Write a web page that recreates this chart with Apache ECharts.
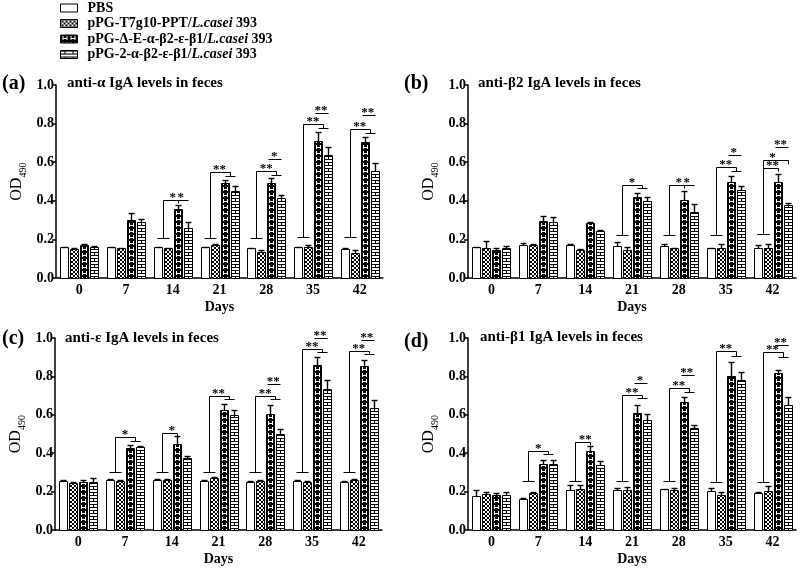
<!DOCTYPE html>
<html>
<head>
<meta charset="utf-8">
<script src="https://cdn.jsdelivr.net/npm/echarts@6/dist/echarts.min.js"></script>
<style>
html, body { margin: 0; padding: 0; background: #fff; }
#chart { width: 800px; height: 570px; }
</style>
</head>
<body>
<div id="chart"></div>
<script>
var days = ['0', '7', '14', '21', '28', '35', '42'];
var groups = ['PBS', 'pPG-T7g10-PPT/L.casei 393', 'pPG-Δ-E-α-β2-ε-β1/L.casei 393', 'pPG-2-α-β2-ε-β1/L.casei 393'];
var panelTags = ['(a)', '(b)', '(c)', '(d)'];
var panelTitles = ['anti-α IgA levels in feces', 'anti-β2 IgA levels in feces', 'anti-ε IgA levels in feces', 'anti-β1 IgA levels in feces'];

// means, one row per group (PBS, T7g10, Δ-E, 2-α)
var meanA = [
  [0.159, 0.160, 0.160, 0.159, 0.153, 0.159, 0.152],
  [0.152, 0.155, 0.155, 0.169, 0.133, 0.160, 0.129],
  [0.169, 0.300, 0.357, 0.490, 0.490, 0.710, 0.707],
  [0.160, 0.288, 0.260, 0.450, 0.414, 0.638, 0.555]
];
var sdA = [
  [0.003, 0.003, 0.003, 0.003, 0.003, 0.003, 0.003],
  [0.003, 0.003, 0.003, 0.005, 0.014, 0.012, 0.014],
  [0.006, 0.035, 0.023, 0.020, 0.027, 0.049, 0.026],
  [0.004, 0.017, 0.030, 0.025, 0.016, 0.040, 0.040]
];
var meanB = [
  [0.159, 0.172, 0.172, 0.167, 0.167, 0.155, 0.155],
  [0.155, 0.172, 0.147, 0.147, 0.155, 0.155, 0.155],
  [0.143, 0.297, 0.284, 0.419, 0.402, 0.497, 0.495],
  [0.155, 0.290, 0.245, 0.397, 0.341, 0.457, 0.379]
];
var sdB = [
  [0.003, 0.008, 0.003, 0.017, 0.009, 0.003, 0.014],
  [0.035, 0.003, 0.003, 0.012, 0.003, 0.021, 0.021],
  [0.012, 0.022, 0.005, 0.021, 0.050, 0.033, 0.045],
  [0.009, 0.024, 0.005, 0.025, 0.042, 0.021, 0.012]
];
var meanC = [
  [0.257, 0.261, 0.261, 0.257, 0.252, 0.257, 0.252],
  [0.247, 0.257, 0.261, 0.270, 0.256, 0.252, 0.261],
  [0.252, 0.426, 0.447, 0.623, 0.605, 0.861, 0.856],
  [0.249, 0.431, 0.374, 0.600, 0.501, 0.734, 0.635]
];
var sdC = [
  [0.004, 0.003, 0.003, 0.003, 0.003, 0.003, 0.003],
  [0.003, 0.003, 0.004, 0.008, 0.003, 0.003, 0.003],
  [0.006, 0.017, 0.040, 0.034, 0.047, 0.040, 0.031],
  [0.021, 0.004, 0.014, 0.023, 0.026, 0.045, 0.043]
];
var meanD = [
  [0.175, 0.162, 0.209, 0.206, 0.213, 0.201, 0.194],
  [0.185, 0.192, 0.215, 0.209, 0.206, 0.180, 0.201],
  [0.183, 0.346, 0.410, 0.607, 0.668, 0.800, 0.817],
  [0.180, 0.342, 0.337, 0.572, 0.532, 0.782, 0.651]
];
var sdD = [
  [0.031, 0.006, 0.023, 0.014, 0.003, 0.019, 0.003],
  [0.012, 0.007, 0.017, 0.014, 0.012, 0.017, 0.026],
  [0.009, 0.020, 0.026, 0.044, 0.027, 0.073, 0.017],
  [0.017, 0.021, 0.023, 0.032, 0.014, 0.043, 0.044]
];

// group brackets: [day index, foot OD, top OD, drop OD, target (23 = both, 2 = Δ-E, 3 = 2-α), label]
var bracketA = [[2, 0.205, 0.405, 0.39, 2, '*'], [3, 0.205, 0.547, 0.53, 23, '**'], [4, 0.205, 0.552, 0.533, 23, '**'], [5, 0.21, 0.798, 0.776, 23, '**'], [6, 0.21, 0.770, 0.750, 23, '**']];
var bracketB = [[3, 0.224, 0.483, 0.465, 23, '*'], [4, 0.224, 0.483, 0.465, 2, '*'], [5, 0.224, 0.574, 0.555, 23, '**'], [6, 0.228, 0.570, 0.555, 2, '**'], [6, 0.228, 0.612, 0.592, 3, '*']];
var bracketC = [[1, 0.30, 0.484, 0.465, 23, '*'], [2, 0.30, 0.507, 0.49, 2, '*'], [3, 0.30, 0.70, 0.68, 23, '**'], [4, 0.30, 0.696, 0.68, 23, '**'], [5, 0.30, 0.943, 0.925, 23, '**'], [6, 0.30, 0.93, 0.915, 23, '**']];
var bracketD = [[1, 0.255, 0.41, 0.395, 23, '*'], [2, 0.255, 0.46, 0.445, 2, '**'], [3, 0.255, 0.703, 0.685, 23, '**'], [4, 0.255, 0.74, 0.72, 23, '**'], [5, 0.25, 0.93, 0.905, 23, '**'], [6, 0.25, 0.925, 0.90, 23, '**']];
// Δ-E vs 2-α: [day index, OD, label]
var pairA = [[2, 0.405, '*'], [4, 0.615, '*'], [5, 0.853, '**'], [6, 0.845, '**']];
var pairB = [[4, 0.483, '*'], [5, 0.638, '*'], [6, 0.678, '**']];
var pairC = [[4, 0.76, '**'], [5, 1.0, '**'], [6, 0.99, '**']];
var pairD = [[3, 0.768, '*'], [4, 0.808, '**'], [6, 0.965, '**']];

var panels = [
  { mean: meanA, sd: sdA, brackets: bracketA, pairs: pairA },
  { mean: meanB, sd: sdB, brackets: bracketB, pairs: pairB },
  { mean: meanC, sd: sdC, brackets: bracketC, pairs: pairC },
  { mean: meanD, sd: sdD, brackets: bracketD, pairs: pairD }
];

var serif = '"Liberation Serif", "Times New Roman", serif';
var gridPos = [
  { left: 56, top: 85, width: 327, height: 193 },
  { left: 468, top: 85, width: 328, height: 193 },
  { left: 55, top: 338, width: 327, height: 192 },
  { left: 468, top: 338, width: 328, height: 192 }
];

function tile(w, h, draw) {
  var c = document.createElement('canvas');
  c.width = w;
  c.height = h;
  draw(c.getContext('2d'));
  return c;
}
var tiles = [
  null,
  tile(4, 4, function (g) {
    g.fillStyle = '#fff';
    g.fillRect(0, 0, 4, 4);
    g.fillStyle = '#000';
    [[0, 0], [1, 1], [2, 2], [3, 3], [3, 0], [2, 1], [1, 2], [0, 3]].forEach(function (p) { g.fillRect(p[0], p[1], 1, 1); });
  }),
  tile(8, 6, function (g) {
    g.fillStyle = '#000';
    g.fillRect(0, 0, 8, 6);
    g.fillStyle = '#fff';
    g.fillRect(2, 1, 1, 4);
    g.fillRect(6, 1, 1, 4);
    g.fillRect(3, 3, 3, 1);
  }),
  tile(8, 6, function (g) {
    g.fillStyle = '#fff';
    g.fillRect(0, 0, 8, 6);
    g.fillStyle = '#000';
    g.fillRect(0, 0, 8, 1);
    g.fillRect(4, 1, 1, 2);
    g.fillRect(0, 3, 8, 1);
  })
];
function fillFor(k, x) {
  if (k === 0) return '#fff';
  return { image: tiles[k], repeat: 'repeat', x: x || 0, y: 0 };
}

function barRender(k) {
  return function (params, api) {
    var cat = api.value(0), v = api.value(1), sd = api.value(2);
    var base = api.coord([cat, 0]);
    var top = api.coord([cat, v]);
    var hi = api.coord([cat, v + sd]);
    var xl = Math.round(base[0] - 19 + 10 * k);
    var yb = Math.round(base[1]) + 0.5;
    var yt = Math.round(top[1]) + 0.5;
    var xm = xl + 4.5;
    var ch = [{
      type: 'rect',
      shape: { x: xl + 0.5, y: yt, width: 8, height: yb - yt },
      style: { fill: fillFor(k, xl), stroke: '#000', lineWidth: 1 }
    }];
    if (sd > 0) {
      var yh = Math.round(hi[1]) + 0.5;
      ch.push({ type: 'line', shape: { x1: xm, y1: yt, x2: xm, y2: yh }, style: { stroke: '#000', lineWidth: 1.4 } });
      ch.push({ type: 'line', shape: { x1: xm - 3, y1: yh, x2: xm + 3, y2: yh }, style: { stroke: '#000', lineWidth: 1.4 } });
    }
    return { type: 'group', children: ch };
  };
}

function starText(text, x, y) {
  return {
    type: 'text',
    style: { text: text, x: x, y: y, align: 'center', verticalAlign: 'bottom', font: 'bold 13px ' + serif, fill: '#000' }
  };
}
function lineEl(x1, y1, x2, y2) {
  return { type: 'line', shape: { x1: x1, y1: y1, x2: x2, y2: y2 }, style: { stroke: '#000', lineWidth: 1 } };
}
function px(v) { return Math.round(v) + 0.5; }

function bracketRender(list) {
  return function (params, api) {
    var b = list[params.dataIndex];
    var cx = api.coord([b[0], 0])[0];
    var yf = px(api.coord([b[0], b[1]])[1]);
    var yt = px(api.coord([b[0], b[2]])[1]);
    var yd = px(api.coord([b[0], b[3]])[1]);
    var xl = px(cx - 10);
    var xr = px(cx + (b[4] === 2 ? 5 : b[4] === 3 ? 15 : 10));
    var ch = [
      lineEl(px(cx - 16), yf, px(cx - 4), yf),
      lineEl(xl, yf, xl, yt),
      lineEl(xl, yt, xr, yt),
      lineEl(xr, yt, xr, yd),
      starText(b[5], cx, yt + 4)
    ];
    if (b[4] === 23) ch.push(lineEl(px(cx + 5), yd, px(cx + 15), yd));
    return { type: 'group', children: ch };
  };
}
function pairRender(list) {
  return function (params, api) {
    var p = list[params.dataIndex];
    var cx = api.coord([p[0], 0])[0];
    var y = px(api.coord([p[0], p[1]])[1]);
    return { type: 'group', children: [lineEl(px(cx + 2), y, px(cx + 15), y), starText(p[2], cx + 8, y + 4)] };
  };
}

var axisText = { color: '#000', fontFamily: serif, fontWeight: 'bold', fontSize: 14 };
var grids = [], xAxes = [], yAxes = [], series = [], titles = [];
var tagPos = [[2, 74], [404, 74], [2, 329], [404, 332]];
var titlePos = [[67, 76], [478, 76], [65, 331], [480, 330]];

panels.forEach(function (p, i) {
  grids.push(gridPos[i]);
  xAxes.push({
    gridIndex: i, type: 'category', data: days,
    axisLine: { lineStyle: { color: '#000', width: 1.5 } },
    axisTick: { alignWithLabel: true, length: 4, lineStyle: { color: '#000', width: 1.5 } },
    axisLabel: Object.assign({ margin: 5 }, axisText),
    name: 'Days', nameLocation: 'middle', nameGap: 22,
    nameTextStyle: { color: '#000', fontFamily: serif, fontWeight: 'bold', fontSize: 14 }
  });
  yAxes.push({
    gridIndex: i, type: 'value', min: 0, max: 1, interval: 0.2,
    splitLine: { show: false },
    axisLine: { show: true, lineStyle: { color: '#000', width: 1.5 } },
    axisTick: { show: true, length: 4, lineStyle: { color: '#000', width: 1.5 } },
    axisLabel: Object.assign({ margin: 2, formatter: function (v) { return v.toFixed(1); } }, axisText),
    name: '{a|OD}{b|490}{s| }', nameLocation: 'middle', nameGap: 28,
    nameTextStyle: {
      color: '#000',
      rich: {
        a: { fontFamily: serif, fontSize: 16, lineHeight: 16, verticalAlign: 'top', color: '#000' },
        b: { fontFamily: serif, fontSize: 10, lineHeight: 10, verticalAlign: 'bottom', color: '#000' },
        s: { fontSize: 1, lineHeight: 19 }
      }
    }
  });
  groups.forEach(function (g, k) {
    series.push({
      type: 'custom', name: g, xAxisIndex: i, yAxisIndex: i,
      renderItem: barRender(k),
      encode: { x: 0, y: 1 },
      data: days.map(function (d, j) { return [j, p.mean[k][j], p.sd[k][j]]; })
    });
  });
  series.push({
    type: 'custom', xAxisIndex: i, yAxisIndex: i, z: 5,
    renderItem: bracketRender(p.brackets),
    encode: { x: 0, y: 1 },
    data: p.brackets.map(function (b) { return [b[0], b[2]]; })
  });
  series.push({
    type: 'custom', xAxisIndex: i, yAxisIndex: i, z: 5,
    renderItem: pairRender(p.pairs),
    encode: { x: 0, y: 1 },
    data: p.pairs.map(function (q) { return [q[0], q[1]]; })
  });
  titles.push({
    text: panelTags[i], left: tagPos[i][0], top: tagPos[i][1], padding: 0,
    textStyle: { color: '#000', fontFamily: serif, fontWeight: 'bold', fontSize: 20 }
  });
  titles.push({
    text: panelTitles[i], left: titlePos[i][0], top: titlePos[i][1], padding: 0,
    textStyle: { color: '#000', fontFamily: serif, fontWeight: 'bold', fontSize: 15 }
  });
});

var chart = echarts.init(document.getElementById('chart'));
chart.setOption({
  animation: false,
  backgroundColor: '#fff',
  title: titles,
  legend: {
    orient: 'vertical', left: 55, top: -4, itemWidth: 17, itemHeight: 8, itemGap: 1.5,
    icon: 'rect', selectedMode: false,
    data: groups.map(function (g, k) {
      return { name: g, itemStyle: { color: fillFor(k), borderColor: '#000', borderWidth: 1 } };
    }),
    formatter: function (name) {
      var parts = name.split('/L.casei');
      if (parts.length < 2) return '{p| }{b|' + name + '}';
      return '{p| }{b|' + parts[0] + '/}{i|L.casei}{b|' + parts[1] + '}';
    },
    textStyle: {
      color: '#000', lineHeight: 13,
      rich: {
        p: { width: 5, fontSize: 14, lineHeight: 13 },
        b: { fontFamily: serif, fontWeight: 'bold', fontSize: 14, lineHeight: 13, color: '#000' },
        i: { fontFamily: serif, fontWeight: 'bold', fontStyle: 'italic', fontSize: 14, lineHeight: 13, color: '#000' }
      }
    }
  },
  grid: grids,
  xAxis: xAxes,
  yAxis: yAxes,
  series: series
});
</script>
</body>
</html>
